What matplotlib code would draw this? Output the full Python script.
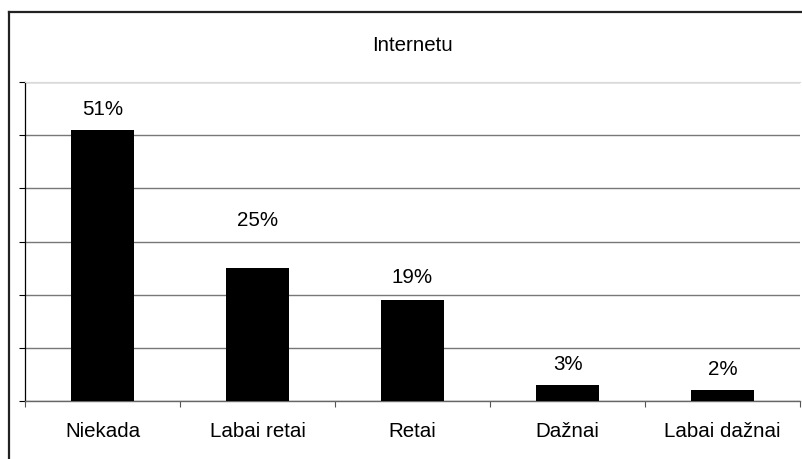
import matplotlib.pyplot as plt
from matplotlib.lines import Line2D

plt.rcParams['font.family'] = ['Liberation Sans', 'DejaVu Sans']

categories = ['Niekada', 'Labai retai', 'Retai', 'Dažnai', 'Labai dažnai']
values = [51, 25, 19, 3, 2]
title = 'Internetu'

W, H = 803, 459
fig = plt.figure(figsize=(W / 100, H / 100), dpi=100)
fig.patch.set_facecolor('white')

# plot area in pixel bounds: x 25..800, y 82..401
ax = fig.add_axes([25 / W, 1 - 401 / H, 775 / W, 319 / H])

x = range(len(categories))
ax.bar(x, values, width=0.41, color='black', zorder=3)

ax.set_xlim(-0.5, len(categories) - 0.5)
ax.set_ylim(0, 60)
ax.set_yticks(range(0, 61, 10))
ax.set_yticklabels([])
ax.yaxis.grid(True, color='#777777', linewidth=1.0, zorder=0)
ax.set_axisbelow(True)

# x ticks sit on category boundaries, labels in the middle
ax.set_xticks(x)
ax.set_xticklabels(categories, fontsize=14.8)
ax.set_xticks([i - 0.5 for i in range(len(categories) + 1)], minor=True)
ax.tick_params(axis='x', which='major', length=0, pad=15)
ax.tick_params(axis='x', which='minor', length=4, width=0.8, color='#555555', direction='out')
ax.tick_params(axis='y', length=4.5, width=0.8, color='black', direction='out')

ax.spines['right'].set_visible(False)
ax.spines['top'].set_color('#d9d9d9')
ax.spines['left'].set_color('black')
ax.spines['left'].set_linewidth(0.9)
ax.spines['bottom'].set_color('#666666')
ax.spines['bottom'].set_linewidth(1.0)

# value labels; the second one sits higher above its bar
offsets = [15, 34, 16, 15, 15]
for i, v in enumerate(values):
    ax.annotate(f'{v}%', (i, v), xytext=(0, offsets[i]), textcoords='offset points',
                ha='center', va='center', fontsize=14.8)

fig.text(412.5 / W, 1 - 45.5 / H, title, ha='center', va='center', fontsize=14.8)

# outer frame, only left and top edges fall inside the image
fx, fy = 9.5 / W, 1 - 11.5 / H
fig.add_artist(Line2D([fx, fx], [-0.05, fy], transform=fig.transFigure,
                      color='#222222', linewidth=1.6))
fig.add_artist(Line2D([fx, 1.05], [fy, fy], transform=fig.transFigure,
                      color='#222222', linewidth=1.6))

fig.savefig('out.png', dpi=100)
